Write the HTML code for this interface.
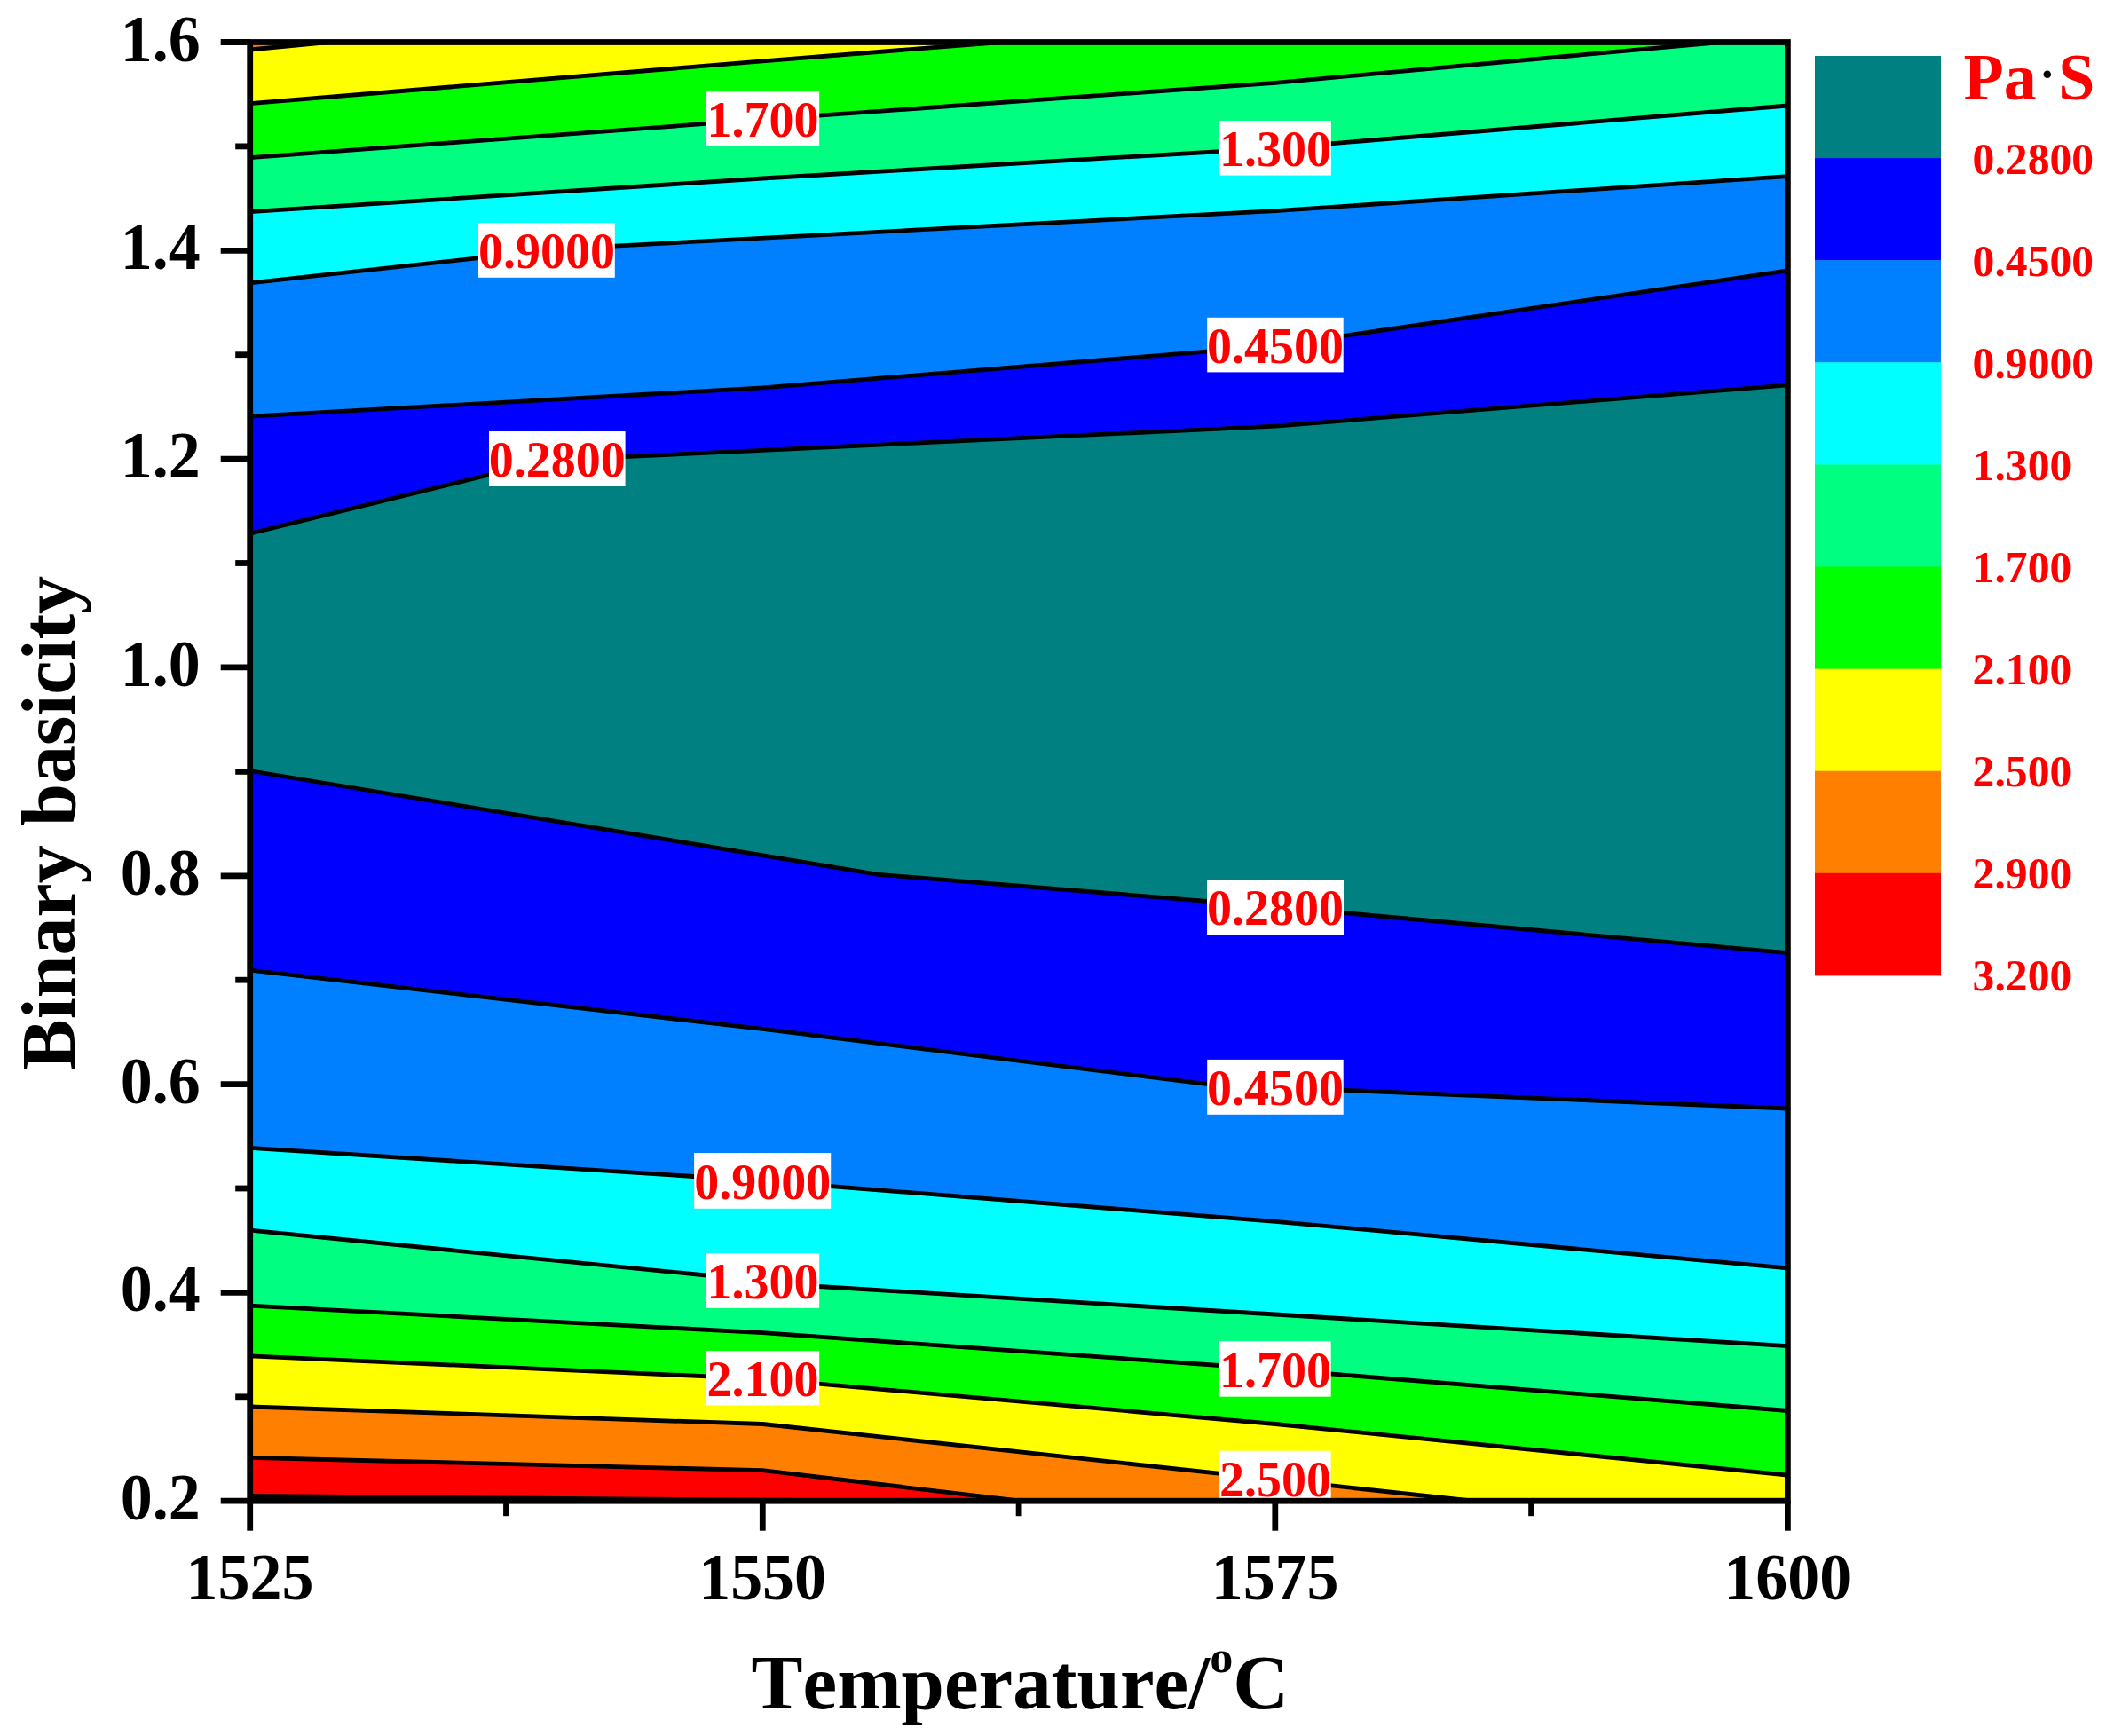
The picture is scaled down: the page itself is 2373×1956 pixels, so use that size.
<!DOCTYPE html>
<html><head><meta charset="utf-8"><title>Viscosity contour</title>
<style>
html,body{margin:0;padding:0;background:#fff;}
svg{display:block;}
text{font-kerning:none;font-variant-ligatures:none;font-family:"Liberation Serif","Times New Roman",serif;font-weight:bold;}
.tk{font-size:74.4px;fill:#000;}
.at{font-size:86px;fill:#000;}
.cl{font-size:56px;fill:#FF0000;text-anchor:middle;}
.cb{font-size:50.4px;fill:#FF0000;}
</style></head><body>
<svg width="2373" height="1956" viewBox="0 0 2373 1956">
<rect width="2373" height="1956" fill="#fff"/>
<defs><clipPath id="pc"><rect x="281.7" y="47.5" width="1732.7" height="1643.7"/></clipPath></defs>
<g clip-path="url(#pc)">
<rect x="281.7" y="47.5" width="1732.7" height="1643.7" fill="#FF8000"/>
<polygon points="281.7,56.0 370.0,47.5 2014.4,47.5 2014.4,1696.2 281.7,1696.2" fill="#FFFF00"/>
<polygon points="281.7,116.6 859.3,68.9 1128.0,47.5 2014.4,47.5 2014.4,1696.2 281.7,1696.2" fill="#00FF00"/>
<polygon points="281.7,177.7 859.3,134.7 1437.0,93.3 1939.0,47.5 2014.4,47.5 2014.4,1696.2 281.7,1696.2" fill="#00FF80"/>
<polygon points="281.7,238.7 859.3,201.0 1437.0,167.0 2014.4,119.0 2014.4,1696.2 281.7,1696.2" fill="#00FFFF"/>
<polygon points="281.7,318.8 636.0,280.1 1437.0,237.6 2014.4,198.6 2014.4,1696.2 281.7,1696.2" fill="#0080FF"/>
<polygon points="281.7,469.2 859.3,436.9 1437.0,389.8 2014.4,304.8 2014.4,1696.2 281.7,1696.2" fill="#0000FF"/>
<polygon points="281.7,601.2 617.0,518.7 1437.0,480.2 2014.4,433.8 2014.4,1696.2 281.7,1696.2" fill="#008080"/>
<polygon points="281.7,868.5 990.0,985.3 1437.0,1021.7 2014.4,1073.6 2014.4,1696.2 281.7,1696.2" fill="#0000FF"/>
<polygon points="281.7,1093.2 859.3,1159.4 1365.0,1222.2 2014.4,1249.0 2014.4,1696.2 281.7,1696.2" fill="#0080FF"/>
<polygon points="281.7,1293.3 859.3,1330.5 1437.0,1376.3 2014.4,1428.8 2014.4,1696.2 281.7,1696.2" fill="#00FFFF"/>
<polygon points="281.7,1386.2 796.0,1437.0 923.0,1449.5 1437.0,1481.0 2014.4,1516.6 2014.4,1696.2 281.7,1696.2" fill="#00FF80"/>
<polygon points="281.7,1471.2 859.3,1501.6 1437.0,1543.0 2014.4,1589.5 2014.4,1696.2 281.7,1696.2" fill="#00FF00"/>
<polygon points="281.7,1527.9 859.3,1553.6 1437.0,1604.5 2014.4,1662.1 2014.4,1696.2 281.7,1696.2" fill="#FFFF00"/>
<polygon points="281.7,1585.0 859.3,1604.5 1660.0,1691.2 2014.4,1691.2 2014.4,1696.2 281.7,1696.2" fill="#FF8000"/>
<polygon points="281.7,1642.3 859.3,1656.7 1150.0,1691.2 2014.4,1691.2 2014.4,1696.2 281.7,1696.2" fill="#FF0000"/>
<polyline points="281.7,56.0 370.0,47.5 2014.4,47.5" fill="none" stroke="#000" stroke-width="4.8" stroke-linejoin="round"/>
<polyline points="281.7,116.6 859.3,68.9 1128.0,47.5 2014.4,47.5" fill="none" stroke="#000" stroke-width="4.8" stroke-linejoin="round"/>
<polyline points="281.7,177.7 859.3,134.7 1437.0,93.3 1939.0,47.5 2014.4,47.5" fill="none" stroke="#000" stroke-width="4.8" stroke-linejoin="round"/>
<polyline points="281.7,238.7 859.3,201.0 1437.0,167.0 2014.4,119.0" fill="none" stroke="#000" stroke-width="4.8" stroke-linejoin="round"/>
<polyline points="281.7,318.8 636.0,280.1 1437.0,237.6 2014.4,198.6" fill="none" stroke="#000" stroke-width="4.8" stroke-linejoin="round"/>
<polyline points="281.7,469.2 859.3,436.9 1437.0,389.8 2014.4,304.8" fill="none" stroke="#000" stroke-width="4.8" stroke-linejoin="round"/>
<polyline points="281.7,601.2 617.0,518.7 1437.0,480.2 2014.4,433.8" fill="none" stroke="#000" stroke-width="4.8" stroke-linejoin="round"/>
<polyline points="281.7,868.5 990.0,985.3 1437.0,1021.7 2014.4,1073.6" fill="none" stroke="#000" stroke-width="4.8" stroke-linejoin="round"/>
<polyline points="281.7,1093.2 859.3,1159.4 1365.0,1222.2 2014.4,1249.0" fill="none" stroke="#000" stroke-width="4.8" stroke-linejoin="round"/>
<polyline points="281.7,1293.3 859.3,1330.5 1437.0,1376.3 2014.4,1428.8" fill="none" stroke="#000" stroke-width="4.8" stroke-linejoin="round"/>
<polyline points="281.7,1386.2 796.0,1437.0 923.0,1449.5 1437.0,1481.0 2014.4,1516.6" fill="none" stroke="#000" stroke-width="4.8" stroke-linejoin="round"/>
<polyline points="281.7,1471.2 859.3,1501.6 1437.0,1543.0 2014.4,1589.5" fill="none" stroke="#000" stroke-width="4.8" stroke-linejoin="round"/>
<polyline points="281.7,1527.9 859.3,1553.6 1437.0,1604.5 2014.4,1662.1" fill="none" stroke="#000" stroke-width="4.8" stroke-linejoin="round"/>
<polyline points="281.7,1585.0 859.3,1604.5 1660.0,1691.2 2014.4,1691.2" fill="none" stroke="#000" stroke-width="4.8" stroke-linejoin="round"/>
<polyline points="281.7,1642.3 859.3,1656.7 1150.0,1691.2 2014.4,1691.2" fill="none" stroke="#000" stroke-width="4.8" stroke-linejoin="round"/>
<polyline points="281.7,1685.5 1000,1691.2" fill="none" stroke="#000" stroke-width="4.8"/>
<rect x="795.9" y="103.2" width="127.3" height="61.6" fill="#fff"/>
<text class="cl" x="859.5" y="154.0">1.700</text>
<rect x="1374.0" y="136.0" width="125.9" height="61.6" fill="#fff"/>
<text class="cl" x="1437.0" y="186.8">1.300</text>
<rect x="539.0" y="251.2" width="153.8" height="61.6" fill="#fff"/>
<text class="cl" x="615.9" y="302.0">0.9000</text>
<rect x="1360.2" y="357.8" width="153.5" height="61.6" fill="#fff"/>
<text class="cl" x="1437.0" y="408.6">0.4500</text>
<rect x="551.0" y="486.0" width="153.6" height="62.0" fill="#fff"/>
<text class="cl" x="627.8" y="537.2">0.2800</text>
<rect x="1360.0" y="991.2" width="154.0" height="61.8" fill="#fff"/>
<text class="cl" x="1437.0" y="1042.2">0.2800</text>
<rect x="1360.2" y="1193.9" width="153.5" height="61.9" fill="#fff"/>
<text class="cl" x="1437.0" y="1245.0">0.4500</text>
<rect x="782.1" y="1299.0" width="154.1" height="62.8" fill="#fff"/>
<text class="cl" x="859.2" y="1351.0">0.9000</text>
<rect x="795.9" y="1412.2" width="127.3" height="61.6" fill="#fff"/>
<text class="cl" x="859.5" y="1463.0">1.300</text>
<rect x="1374.1" y="1511.2" width="125.6" height="62.5" fill="#fff"/>
<text class="cl" x="1436.9" y="1562.9">1.700</text>
<rect x="795.9" y="1522.2" width="127.3" height="61.3" fill="#fff"/>
<text class="cl" x="859.5" y="1572.7">2.100</text>
<rect x="1374.1" y="1634.7" width="125.6" height="62.0" fill="#fff"/>
<text class="cl" x="1436.9" y="1685.9">2.500</text>
</g>
<g stroke="#000" stroke-width="6.8" fill="none">
<rect x="281.7" y="47.5" width="1732.7" height="1643.7"/>
<line x1="248.7" y1="47.5" x2="281.7" y2="47.5"/>
<line x1="265.2" y1="164.9" x2="281.7" y2="164.9"/>
<line x1="248.7" y1="282.3" x2="281.7" y2="282.3"/>
<line x1="265.2" y1="399.7" x2="281.7" y2="399.7"/>
<line x1="248.7" y1="517.1" x2="281.7" y2="517.1"/>
<line x1="265.2" y1="634.5" x2="281.7" y2="634.5"/>
<line x1="248.7" y1="751.9" x2="281.7" y2="751.9"/>
<line x1="265.2" y1="869.4" x2="281.7" y2="869.4"/>
<line x1="248.7" y1="986.8" x2="281.7" y2="986.8"/>
<line x1="265.2" y1="1104.2" x2="281.7" y2="1104.2"/>
<line x1="248.7" y1="1221.6" x2="281.7" y2="1221.6"/>
<line x1="265.2" y1="1339.0" x2="281.7" y2="1339.0"/>
<line x1="248.7" y1="1456.4" x2="281.7" y2="1456.4"/>
<line x1="265.2" y1="1573.8" x2="281.7" y2="1573.8"/>
<line x1="248.7" y1="1691.2" x2="281.7" y2="1691.2"/>
<line x1="281.7" y1="1691.2" x2="281.7" y2="1724.7"/>
<line x1="570.5" y1="1691.2" x2="570.5" y2="1708.2"/>
<line x1="859.3" y1="1691.2" x2="859.3" y2="1724.7"/>
<line x1="1148.1" y1="1691.2" x2="1148.1" y2="1708.2"/>
<line x1="1436.8" y1="1691.2" x2="1436.8" y2="1724.7"/>
<line x1="1725.6" y1="1691.2" x2="1725.6" y2="1708.2"/>
<line x1="2014.4" y1="1691.2" x2="2014.4" y2="1724.7"/>
</g>
<text class="tk" text-anchor="end" transform="translate(225.6,68.5) scale(0.967,1)">1.6</text>
<text class="tk" text-anchor="end" transform="translate(225.6,303.3) scale(0.967,1)">1.4</text>
<text class="tk" text-anchor="end" transform="translate(225.6,538.1) scale(0.967,1)">1.2</text>
<text class="tk" text-anchor="end" transform="translate(225.6,772.9) scale(0.967,1)">1.0</text>
<text class="tk" text-anchor="end" transform="translate(225.6,1007.8) scale(0.967,1)">0.8</text>
<text class="tk" text-anchor="end" transform="translate(225.6,1242.6) scale(0.967,1)">0.6</text>
<text class="tk" text-anchor="end" transform="translate(225.6,1477.4) scale(0.967,1)">0.4</text>
<text class="tk" text-anchor="end" transform="translate(225.6,1712.2) scale(0.967,1)">0.2</text>
<text class="tk" text-anchor="middle" transform="translate(281.5,1802.3) scale(0.967,1)">1525</text>
<text class="tk" text-anchor="middle" transform="translate(859.1,1802.3) scale(0.967,1)">1550</text>
<text class="tk" text-anchor="middle" transform="translate(1436.6,1802.3) scale(0.967,1)">1575</text>
<text class="tk" text-anchor="middle" transform="translate(2014.2,1802.3) scale(0.967,1)">1600</text>
<text class="at" transform="translate(846.6,1925.4) scale(1.011,1)">Temperature/<tspan font-size="51.6" dy="-41.6">o</tspan><tspan dy="41.6">C</tspan></text>
<text class="at" text-anchor="middle" transform="translate(84.3,927.3) rotate(-90)">Binary basicity</text>
<rect x="2045" y="63.0" width="142" height="115.6" fill="#008080"/>
<rect x="2045" y="178.1" width="142" height="115.6" fill="#0000FF"/>
<rect x="2045" y="293.2" width="142" height="115.6" fill="#0080FF"/>
<rect x="2045" y="408.3" width="142" height="115.6" fill="#00FFFF"/>
<rect x="2045" y="523.4" width="142" height="115.6" fill="#00FF80"/>
<rect x="2045" y="638.5" width="142" height="115.6" fill="#00FF00"/>
<rect x="2045" y="753.6" width="142" height="115.6" fill="#FFFF00"/>
<rect x="2045" y="868.7" width="142" height="115.6" fill="#FF8000"/>
<rect x="2045" y="983.8" width="142" height="115.6" fill="#FF0000"/>
<text class="cb" transform="translate(2222.6,195.5) scale(0.985,1)">0.2800</text>
<text class="cb" transform="translate(2222.6,310.6) scale(0.985,1)">0.4500</text>
<text class="cb" transform="translate(2222.6,425.7) scale(0.985,1)">0.9000</text>
<text class="cb" transform="translate(2222.6,540.8) scale(0.985,1)">1.300</text>
<text class="cb" transform="translate(2222.6,655.9) scale(0.985,1)">1.700</text>
<text class="cb" transform="translate(2222.6,771.0) scale(0.985,1)">2.100</text>
<text class="cb" transform="translate(2222.6,886.1) scale(0.985,1)">2.500</text>
<text class="cb" transform="translate(2222.6,1001.2) scale(0.985,1)">2.900</text>
<text class="cb" transform="translate(2222.6,1116.3) scale(0.985,1)">3.200</text>
<text x="2212.6" y="112.4" font-size="74" fill="#FF0000">Pa<tspan fill="#000" font-size="52.8" x="2298" dy="-11.6">·</tspan><tspan x="2319.3" dy="11.6">S</tspan></text>
</svg></body></html>
